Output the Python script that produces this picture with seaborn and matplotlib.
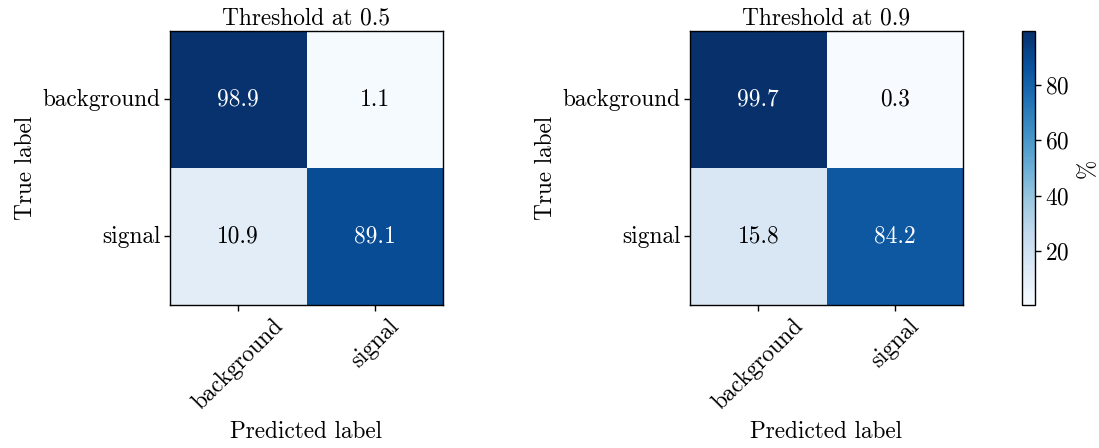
import numpy as np
import pandas as pd
import matplotlib
matplotlib.use("Agg")
import matplotlib.pyplot as plt
import seaborn as sns

# Normalised confusion matrices (percent of each true class)
class_names = ["background", "signal"]
thresholds = ["0.5", "0.9"]
cm_05 = [[98.9, 1.1],
         [10.9, 89.1]]
cm_09 = [[99.7, 0.3],
         [15.8, 84.2]]

plt.rcParams["font.family"] = ["cmr10", "DejaVu Serif"]
plt.rcParams["mathtext.fontset"] = "cm"
plt.rcParams["axes.formatter.use_mathtext"] = True
plt.rcParams["axes.unicode_minus"] = False
FS = 16.8

W, H = 1099, 448
fig = plt.figure(figsize=(W / 100, H / 100), dpi=100)

def box(x0, y0, x1, y1):
    return [x0 / W, 1 - y1 / H, (x1 - x0) / W, (y1 - y0) / H]

ax1 = fig.add_axes(box(170, 31, 443, 305))
ax2 = fig.add_axes(box(690, 31, 963, 305))
cax = fig.add_axes(box(1022, 31, 1035, 305))

matrices = [cm_05, cm_09]
vmin = min(np.min(m) for m in matrices)
vmax = max(np.max(m) for m in matrices)

for i, (ax, mat, thr) in enumerate(zip([ax1, ax2], matrices, thresholds)):
    df = pd.DataFrame(mat, index=class_names, columns=class_names)
    sns.heatmap(df, ax=ax, cmap="Blues", vmin=vmin, vmax=vmax,
                annot=False, cbar=(i == 1), cbar_ax=cax if i == 1 else None,
                square=False)
    # value labels, light text on dark cells
    arr = np.asarray(mat)
    for r in range(arr.shape[0]):
        for c in range(arr.shape[1]):
            v = arr[r, c]
            ax.text(c + 0.5, r + 0.5, f"{v:.1f}", ha="center", va="center",
                    fontsize=FS, color="white" if v > vmax / 2 else "black")
    for sp in ax.spines.values():
        sp.set_visible(True)
        sp.set_color("black")
        sp.set_linewidth(1.0)
    ax.tick_params(axis="both", length=4, width=1, labelsize=FS, pad=3)
    ax.set_xticklabels(class_names, rotation=45, ha="center", rotation_mode="default",
                       fontsize=FS)
    ax.set_yticklabels(class_names, rotation=0, va="center", fontsize=FS)
    ax.set_title(f"Threshold at {thr}", fontsize=FS, pad=5)
    ax.set_xlabel("Predicted label", fontsize=FS, labelpad=5)
    ax.set_ylabel("True label", fontsize=FS, labelpad=4)

cbar = ax2.collections[0].colorbar
cbar.outline.set_visible(True)
cbar.outline.set_edgecolor("black")
cbar.outline.set_linewidth(1.0)
cbar.set_ticks([20, 40, 60, 80])
cax.tick_params(labelsize=FS, length=4, width=1)
cbar.set_label("%", fontsize=FS, labelpad=5)

fig.savefig("out.png", dpi=100)
